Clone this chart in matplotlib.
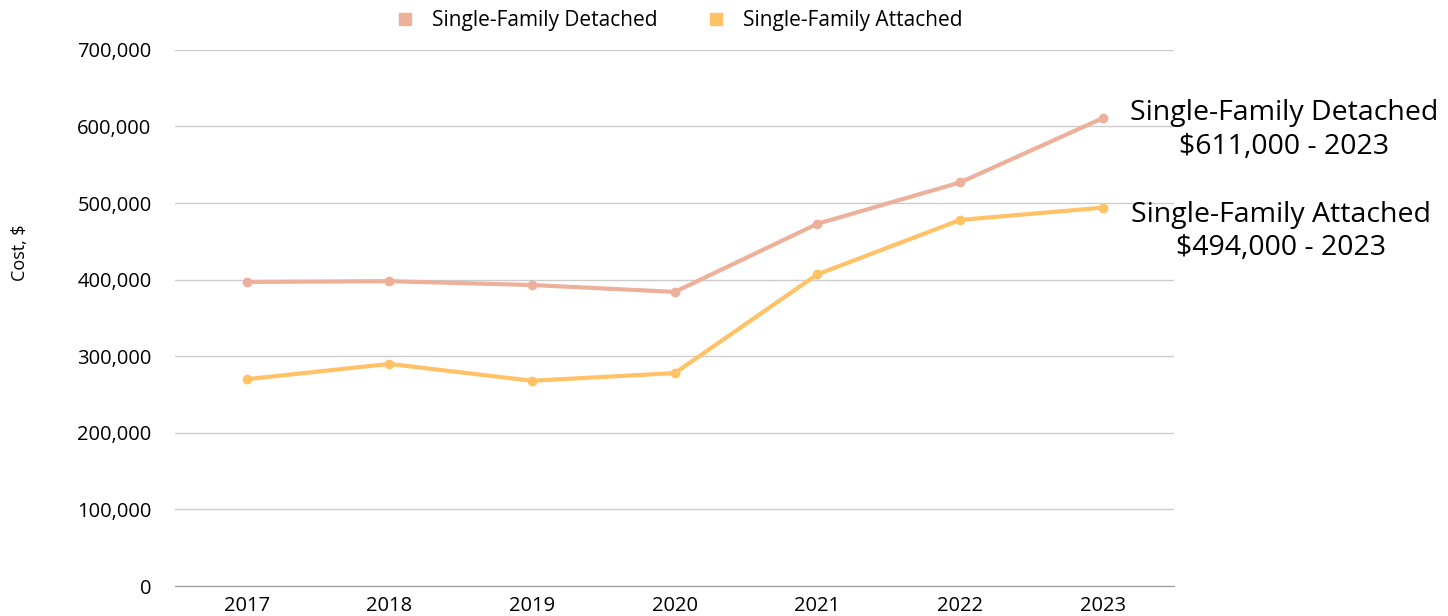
import matplotlib
matplotlib.use("Agg")
import matplotlib.pyplot as plt
from matplotlib.ticker import FuncFormatter

plt.rcParams['font.family'] = ['Open Sans', 'DejaVu Sans']

years = ['2017', '2018', '2019', '2020', '2021', '2022', '2023']
detached = [397000, 398000, 393000, 384000, 473000, 527000, 611000]
attached = [270000, 290000, 268000, 278000, 407000, 478000, 494000]

c_det = '#EDB09A'
c_att = '#FFC266'

fig = plt.figure(figsize=(14.48, 6.16), dpi=100)
ax = fig.add_axes([0.121, 0.0487, 0.69, 0.8703])

x = range(len(years))
ax.plot(x, detached, color=c_det, lw=3, marker='o', ms=6, label='Single-Family Detached', zorder=3)
ax.plot(x, attached, color=c_att, lw=3, marker='o', ms=6, label='Single-Family Attached', zorder=3)

ax.set_xlim(-0.5, 6.5)
ax.set_ylim(0, 700000)
ax.set_yticks(range(0, 700001, 100000))
ax.yaxis.set_major_formatter(FuncFormatter(lambda v, p: f'{int(v):,}'))
ax.set_xticks(list(x))
ax.set_xticklabels(years)
ax.grid(axis='y', color='#cccccc', lw=1)
ax.set_axisbelow(True)
for s in ['left', 'right', 'top']:
    ax.spines[s].set_visible(False)
ax.spines['bottom'].set_color('#999999')
ax.tick_params(axis='both', length=0, labelsize=14.5, colors='black')
ax.tick_params(axis='y', pad=17)
ax.tick_params(axis='x', pad=7)
fig.text(0.014, 0.59, 'Cost, $', rotation=90, ha='center', va='center', fontsize=13, fontweight='medium')

ax.annotate('Single-Family Detached\n$611,000 - 2023', xy=(6, detached[-1]),
            xytext=(181, -12), textcoords='offset pixels', ha='center', va='center',
            multialignment='center', fontsize=20.5, linespacing=1.25, annotation_clip=False)
ax.annotate('Single-Family Attached\n$494,000 - 2023', xy=(6, attached[-1]),
            xytext=(178, -24), textcoords='offset pixels', ha='center', va='center',
            multialignment='center', fontsize=20.5, linespacing=1.25, annotation_clip=False)

h = [plt.Line2D([], [], color=c, marker='s', ls='', ms=8) for c in (c_det, c_att)]
fig.legend(h, ['Single-Family Detached', 'Single-Family Attached'], loc='center',
           bbox_to_anchor=(0.465, 0.967), ncol=2, frameon=False, fontsize=15,
           handletextpad=0.3, columnspacing=1.8)

fig.savefig('out.png', dpi=100)
